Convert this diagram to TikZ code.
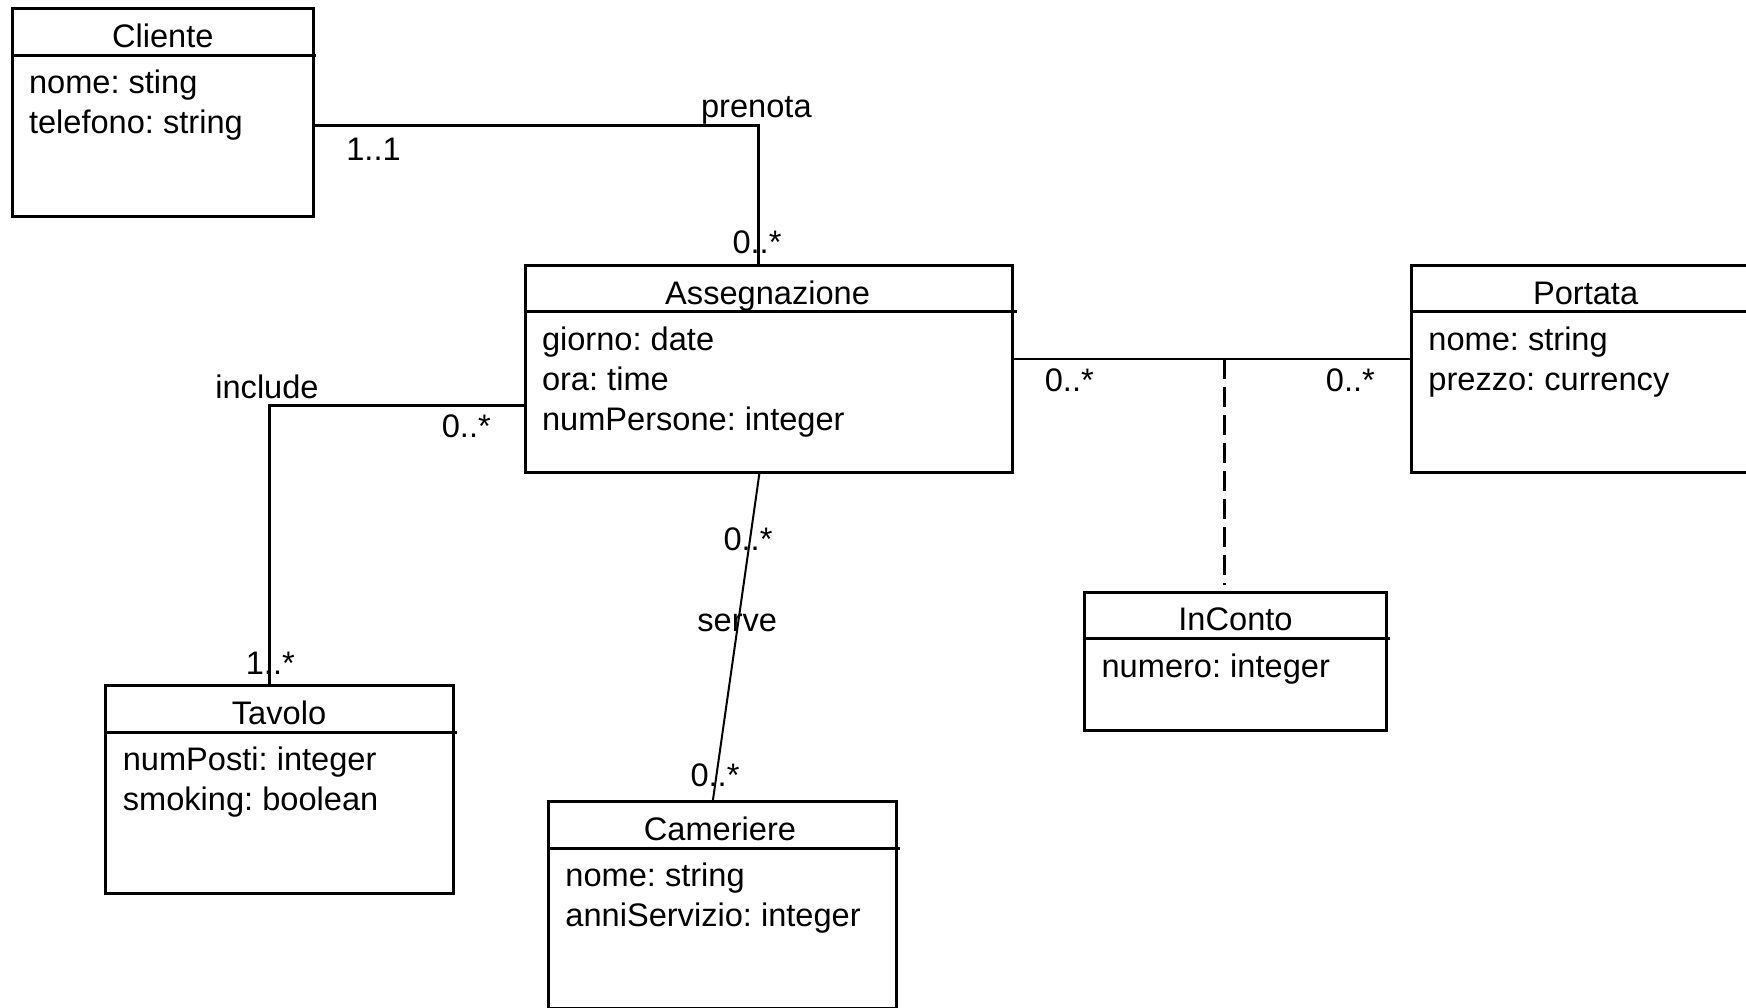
\documentclass[tikz,border=0pt]{standalone}
\usepackage{fontspec}
\setmainfont{Liberation Sans}
\frenchspacing
\begin{document}
\begin{tikzpicture}[x=0.5pt,y=-0.5pt,
  box/.style={draw, line width=1.5pt, rectangle, inner sep=0pt, outer sep=0pt, anchor=north west},
  divider/.style={line width=1.5pt},
  txt/.style={inner sep=0pt, outer sep=0pt, font=\fontsize{16.3pt}{19pt}\selectfont},
  ttl/.style={txt, anchor=base},
  attr/.style={txt, anchor=base west},
  lbl/.style={txt, anchor=base},
  assoc/.style={line width=1.3pt},
  thinassoc/.style={line width=1pt},
  linkdash/.style={line width=1.5pt, dash pattern=on 10pt off 4pt},
  ]
\fill[white] (0,0) rectangle (1746,1007);
\clip (0,0) rectangle (1746,1007);

% Cliente
\node[box, minimum width=150.75pt, minimum height=104.2pt] (cliente) at (12,8.3) {};
\draw[divider] (12,55) -- (316,55);
\node[ttl] (clienteT) at (162.75,47.5) {Cliente};
\node[attr] (clienteA1) at (29,93.6) {nome: sting};
\node[attr] (clienteA2) at (29,133.6) {telefono: string};

% Assegnazione
\node[box, minimum width=243.6pt, minimum height=103.5pt] (asseg) at (525,265.7) {};
\draw[divider] (525,311.7) -- (1016.6,311.7);
\node[ttl] (assegT) at (767.6,304.2) {Assegnazione};
\node[attr] (assegA1) at (542,350.3) {giorno: date};
\node[attr] (assegA2) at (542,390.3) {ora: time};
\node[attr] (assegA3) at (542,430.3) {numPersone: integer};

% Portata
\node[box, minimum width=174.3pt, minimum height=103.5pt] (portata) at (1411.4,265.7) {};
\draw[divider] (1411.4,311.7) -- (1760,311.7);
\node[ttl] (portataT) at (1585.6,304.2) {Portata};
\node[attr] (portataA1) at (1428.4,350.3) {nome: string};
\node[attr] (portataA2) at (1428.4,390.3) {prezzo: currency};

% Tavolo
\node[box, minimum width=174pt, minimum height=103.8pt] (tavolo) at (105.8,685.7) {};
\draw[divider] (105.8,732) -- (456.6,732);
\node[ttl] (tavoloT) at (279,724.2) {Tavolo};
\node[attr] (tavoloA1) at (122.8,770.6) {numPosti: integer};
\node[attr] (tavoloA2) at (122.8,810.6) {smoking: boolean};

% Cameriere
\node[box, minimum width=174pt, minimum height=103.5pt] (cameriere) at (548.4,801.7) {};
\draw[divider] (548.4,848.3) -- (899.7,848.3);
\node[ttl] (cameriereT) at (720,840.7) {Cameriere};
\node[attr] (cameriereA1) at (565.4,886.9) {nome: string};
\node[attr] (cameriereA2) at (565.4,926.9) {anniServizio: integer};

% InConto
\node[box, minimum width=150.9pt, minimum height=68.85pt] (inconto) at (1084.6,592.3) {};
\draw[divider] (1084.6,638.7) -- (1390,638.7);
\node[ttl] (incontoT) at (1235.5,630.9) {InConto};
\node[attr] (incontoA1) at (1101.6,677.3) {numero: integer};

% connector bends
\coordinate (pk) at (758.4,125.3);
\coordinate (ik) at (269.5,405.3);
\coordinate (s1) at (759.5,472.7);
\coordinate (s2) at (712.7,801.7);
\coordinate (ak) at (1224.9,359);

% prenota
\draw[assoc] (cliente.east |- pk) -- (pk) -- (asseg.north -| pk);
\node[lbl] (prenotaL) at (756.4,117.3) {prenota};
\node[lbl] (prenotaM1) at (373.5,160.7) {1..1};
\node[lbl] (prenotaM2) at (757,253.3) {0..*};

% include
\draw[assoc] (asseg.west |- ik) -- (ik) -- (tavolo.north -| ik);
\node[lbl] (includeL) at (267,398.3) {include};
\node[lbl] (includeM1) at (466.3,437.3) {0..*};
\node[lbl] (includeM2) at (270.3,674) {1..*};

% serve
\draw[thinassoc] (asseg.south -| s1) -- (cameriere.north -| s2);
\node[lbl] (serveM1) at (748,550.7) {0..*};
\node[lbl] (serveL) at (737.2,631.3) {serve};
\node[lbl] (serveM2) at (715,786.7) {0..*};

% InConto association
\draw[assoc] (asseg.east |- ak) -- (portata.west |- ak);
\node[lbl] (contoM1) at (1069.3,391.7) {0..*};
\node[lbl] (contoM2) at (1350.4,391.7) {0..*};
\draw[linkdash, shorten >=3.8pt] (ak) -- (inconto.north -| ak);
\end{tikzpicture}
\end{document}
